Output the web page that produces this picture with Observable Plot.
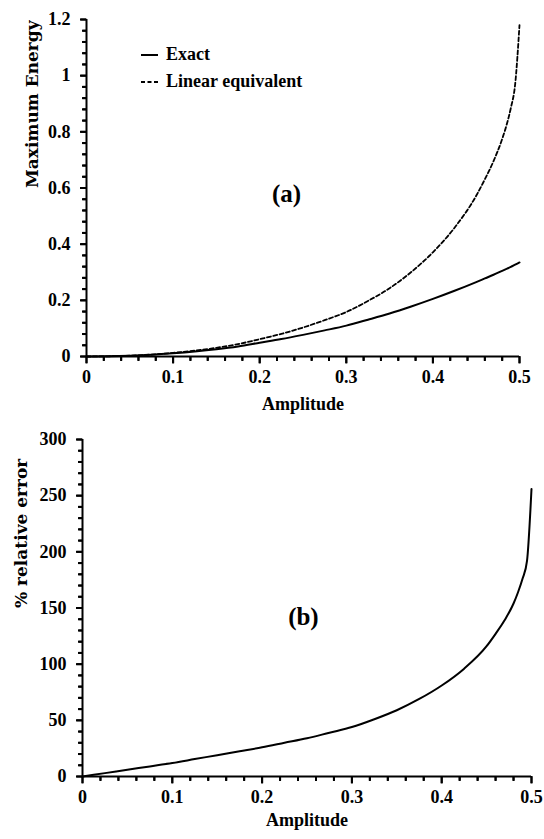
<!DOCTYPE html>
<html>
<head>
<meta charset="utf-8">
<script src="https://cdn.jsdelivr.net/npm/d3@7"></script>
<script src="https://cdn.jsdelivr.net/npm/@observablehq/plot@0.6"></script>
<style>
  html, body { margin: 0; padding: 0; background: white; }
  #wrap { position: relative; width: 544px; height: 839px; overflow: hidden; }
  #wrap svg { display: block; }
  .leg { position: absolute; font-family: "Liberation Serif", serif; font-weight: bold; font-size: 18px; color: black; white-space: nowrap; line-height: 1; }
</style>
</head>
<body>
<div id="wrap">
  <div id="panelA"></div>
  <div id="panelB"></div>
</div>
<script>
// ---- data ----
const amplitude = [0, 0.025, 0.05, 0.075, 0.1, 0.125, 0.15, 0.175, 0.2, 0.225, 0.25, 0.275, 0.3, 0.325, 0.35, 0.375, 0.4, 0.425, 0.45, 0.46, 0.47, 0.48, 0.485, 0.49, 0.495, 0.5];
const exactEnergy = [0, 0.0007, 0.0028, 0.0063, 0.0115, 0.018, 0.026, 0.036, 0.049, 0.062, 0.077, 0.093, 0.110, 0.131, 0.153, 0.178, 0.205, 0.234, 0.265, 0.278, 0.291, 0.305, 0.312, 0.319, 0.327, 0.335];
const linearEnergy = [0, 0.0007, 0.0030, 0.0069, 0.0129, 0.0208, 0.0309, 0.0441, 0.0617, 0.0806, 0.1032, 0.1293, 0.1584, 0.1978, 0.2433, 0.3008, 0.3711, 0.4586, 0.5724, 0.6311, 0.6955, 0.7747, 0.8237, 0.885, 0.97, 1.18];
const relativeError = [0, 3, 6, 9, 12, 15.5, 19, 22.5, 26, 30, 34, 39, 44, 51, 59, 69, 81, 96, 116, 127, 139, 154, 164, 176, 192, 256];

const xMajor = [0, 0.1, 0.2, 0.3, 0.4, 0.5];
const xMinor = [0.02, 0.04, 0.06, 0.08, 0.12, 0.14, 0.16, 0.18, 0.22, 0.24, 0.26, 0.28, 0.32, 0.34, 0.36, 0.38, 0.42, 0.44, 0.46, 0.48];
const yMajorTop = [0, 0.2, 0.4, 0.6, 0.8, 1, 1.2];
const yMinorTop = [0.04, 0.08, 0.12, 0.16, 0.24, 0.28, 0.32, 0.36, 0.44, 0.48, 0.52, 0.56, 0.64, 0.68, 0.72, 0.76, 0.84, 0.88, 0.92, 0.96, 1.04, 1.08, 1.12, 1.16];
const yMajorBottom = [0, 50, 100, 150, 200, 250, 300];
const yMinorBottom = [10, 20, 30, 40, 60, 70, 80, 90, 110, 120, 130, 140, 160, 170, 180, 190, 210, 220, 230, 240, 260, 270, 280, 290];

const seriesNames = ["Exact", "Linear equivalent"];
const xLabel = "Amplitude";
const yLabelTop = "Maximum Energy";
const yLabelBottom = "% relative error";

const energyRows = amplitude.map((a, i) => ({a, exact: exactEnergy[i], linear: linearEnergy[i]}));
const errorRows = amplitude.map((a, i) => ({a, err: relativeError[i]}));

const font = {fontFamily: "Liberation Serif", fontWeight: "bold", fontSize: 18};

// custom symbols: short strokes pointing down (x ticks) or left (y ticks)
const downTick = len => ({draw(ctx) { ctx.moveTo(0, 0); ctx.lineTo(0, len); }});
const leftTick = len => ({draw(ctx) { ctx.moveTo(0, 0); ctx.lineTo(-len, 0); }});

function axes(cfg, xDom, yDom, yMajor, yMinor) {
  const plotW = cfg.width - cfg.marginLeft - cfg.marginRight;
  const plotH = cfg.height - cfg.marginTop - cfg.marginBottom;
  const ux = (xDom[1] - xDom[0]) / plotW;
  const uy = (yDom[1] - yDom[0]) / plotH;
  const tx = (vals, len) => [
    Plot.ruleX(vals, {x: d => d, y1: yDom[0], y2: yDom[0] - len * uy, stroke: "#000", strokeWidth: 2}),
    Plot.dot(vals, {x: d => d, y: yDom[0], symbol: downTick(len), fill: "none", stroke: "#000", strokeWidth: 2})
  ];
  const ty = (vals, len) => [
    Plot.ruleY(vals, {y: d => d, x1: xDom[0], x2: xDom[0] - len * ux, stroke: "#000", strokeWidth: 2}),
    Plot.dot(vals, {x: xDom[0], y: d => d, symbol: leftTick(len), fill: "none", stroke: "#000", strokeWidth: 2})
  ];
  return [
    ...tx(xMinor, 4.5), ...tx(xMajor, 7),
    ...ty(yMinor, 4), ...ty(yMajor, 6),
    Plot.text(xMajor, {x: d => d, frameAnchor: "bottom", dy: 26, text: d => String(d), ...font, fill: "black"}),
    Plot.text(yMajor, {y: d => d, frameAnchor: "left", dx: -16, textAnchor: "end", text: d => String(d), ...font, fill: "black"}),
    Plot.ruleY([yDom[0]], {stroke: "black", strokeWidth: 2}),
    Plot.ruleX([xDom[0]], {stroke: "black", strokeWidth: 2})
  ];
}

// ---- top panel ----
const A = {width: 544, height: 420, marginLeft: 86, marginRight: 25, marginTop: 19, marginBottom: 64};
const chartA = Plot.plot({
  ...A,
  x: {domain: [0, 0.5], axis: null},
  y: {domain: [0, 1.2], axis: null},
  marks: [
    ...axes(A, [0, 0.5], [0, 1.2], yMajorTop, yMinorTop),
    Plot.line(energyRows, {x: "a", y: "linear", stroke: "black", strokeWidth: 1.8, strokeDasharray: "4,2.5", curve: "monotone-x"}),
    Plot.line(energyRows, {x: "a", y: "exact", stroke: "black", strokeWidth: 2, curve: "monotone-x"}),
    Plot.text([yLabelTop], {frameAnchor: "left", dx: -54, rotate: -90, text: d => d, fontFamily: "DejaVu Serif", fontWeight: "bold", fontSize: 17, fill: "black"}),
    Plot.text([xLabel], {frameAnchor: "bottom", dy: 53, text: d => d, ...font, fill: "black"}),
    Plot.text(["(a)"], {x: 0.231, y: 0.58, text: d => d, ...font, fontSize: 25, fill: "black"})
  ]
});
document.getElementById("panelA").appendChild(chartA);

// ---- bottom panel ----
const B = {width: 544, height: 419, marginLeft: 82, marginRight: 13, marginTop: 19, marginBottom: 63};
const chartB = Plot.plot({
  ...B,
  x: {domain: [0, 0.5], axis: null},
  y: {domain: [0, 300], axis: null},
  marks: [
    ...axes(B, [0, 0.5], [0, 300], yMajorBottom, yMinorBottom),
    Plot.line(errorRows, {x: "a", y: "err", stroke: "black", strokeWidth: 2, curve: "monotone-x"}),
    Plot.text([yLabelBottom], {frameAnchor: "left", dx: -61, rotate: -90, text: d => d, fontFamily: "DejaVu Serif", fontWeight: "bold", fontSize: 17, fill: "black"}),
    Plot.text([xLabel], {frameAnchor: "bottom", dy: 49, text: d => d, ...font, fill: "black"}),
    Plot.text(["(b)"], {x: 0.246, y: 142, text: d => d, ...font, fontSize: 25, fill: "black"})
  ]
});
document.getElementById("panelB").appendChild(chartB);

// ---- legend (top panel) ----
const wrap = document.getElementById("wrap");
const legendStyles = [{dash: null, top: 55}, {dash: "4,2.5", top: 81.5}];
seriesNames.forEach((name, i) => {
  const s = legendStyles[i];
  const ns = "http://www.w3.org/2000/svg";
  const svg = document.createElementNS(ns, "svg");
  svg.setAttribute("width", 18); svg.setAttribute("height", 6);
  svg.style.position = "absolute"; svg.style.left = "141px"; svg.style.top = (s.top - 3) + "px";
  const ln = document.createElementNS(ns, "line");
  ln.setAttribute("x1", 0); ln.setAttribute("x2", 17); ln.setAttribute("y1", 3); ln.setAttribute("y2", 3);
  ln.setAttribute("stroke", "black"); ln.setAttribute("stroke-width", s.dash ? 1.8 : 2);
  if (s.dash) ln.setAttribute("stroke-dasharray", s.dash);
  svg.appendChild(ln);
  wrap.appendChild(svg);
  const t = document.createElement("div");
  t.className = "leg";
  t.textContent = name;
  t.style.left = "166px";
  t.style.top = (s.top - 10) + "px";
  wrap.appendChild(t);
});
</script>
</body>
</html>
